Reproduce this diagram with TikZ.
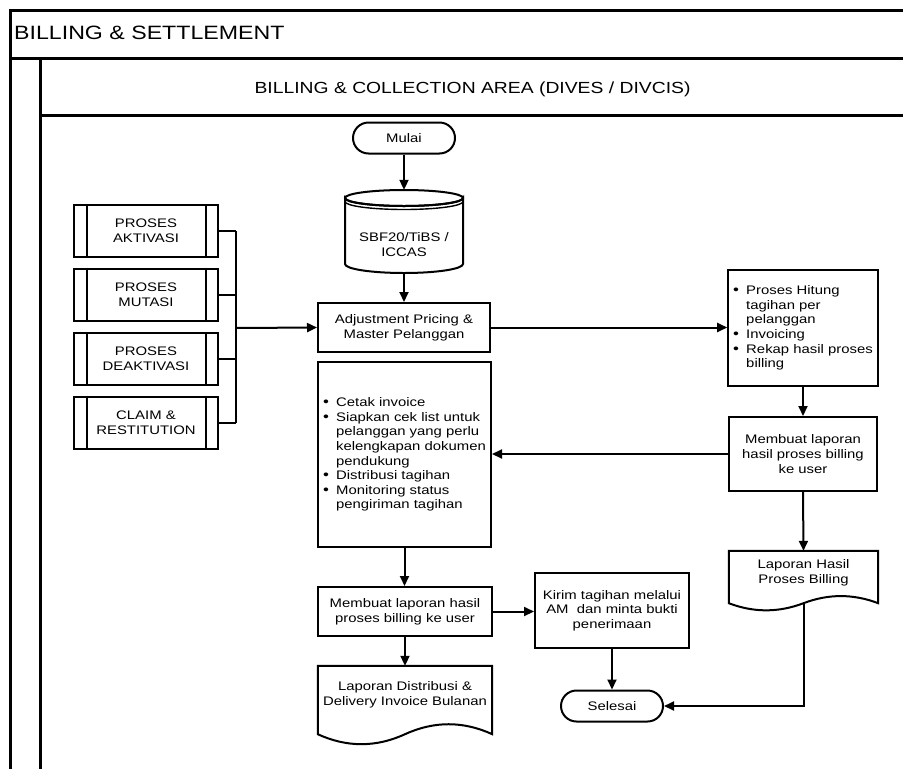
\documentclass[tikz,border=0pt]{standalone}
\usepackage{fontspec}
\setmainfont[FakeStretch=1.2]{Liberation Sans}
\usetikzlibrary{arrows.meta,shapes.misc,calc}
\newcommand\boxfont{\fontsize{12.4}{14.6}\selectfont}
\newcommand\bl{\makebox[13pt][l]{{\fontsize{14}{14}\selectfont\textbullet}}}
\newcommand\ii{\makebox[13pt]{}}
\begin{document}
\begin{tikzpicture}[x=1pt,y=-1pt,
  lane/.style={line width=3pt},
  box/.style={draw, line width=2pt, fill=white, inner sep=0pt, align=center, font=\boxfont},
  listbox/.style={box, align=left, inner xsep=5pt},
  term/.style={box, rounded rectangle, minimum width=102pt, minimum height=31pt},
  sub/.style={box, minimum width=144pt, minimum height=52pt},
  conn/.style={line width=2pt},
  arr/.style={conn, -{Triangle[length=10pt,width=9pt]}}
]
\useasboundingbox (0,0) rectangle (903,769);

% swimlane frame
\draw[lane] (10,772) -- (10,10) -- (906,10);
\draw[lane] (10,58) -- (906,58);
\draw[lane] (40,772) -- (40,58);
\draw[lane] (40,115) -- (906,115);
\node[anchor=base west, font=\fontsize{19.3}{19}\selectfont, inner sep=0pt] (lane1) at (14,39.5) {BILLING \& SETTLEMENT};
\node[anchor=base, font=\fontsize{16.1}{16}\selectfont, inner sep=0pt] (lane2) at (472.5,93) {BILLING \& COLLECTION AREA (DIVES / DIVCIS)};

% start and database
\node[term] (start) at (404,138) {Mulai};
\node[minimum width=118pt, minimum height=83pt, inner sep=0pt] (db) at (404,231.5) {};
\draw[conn, fill=white] (345,264) -- (345,198)
  arc[start angle=180, end angle=0, x radius=59, y radius=8]
  -- (463,264) arc[start angle=0, end angle=180, x radius=59, y radius=9] -- cycle;
\draw[conn] (404,198) ellipse[x radius=59, y radius=8];
\draw[line width=1.4pt] (345,201.5) arc[start angle=180, end angle=0, x radius=59, y radius=8];
\node[font=\boxfont, align=center, inner sep=0pt] (dbtext) at (404,244.5) {SBF20/TiBS /\\ICCAS};

% input processes
\node[sub] (p1) at (146,231) {PROSES\\AKTIVASI};
\node[sub] (p2) at (146,294.5) {PROSES\\MUTASI};
\node[sub] (p3) at (146,359) {PROSES\\DEAKTIVASI};
\node[sub] (p4) at (146,422.5) {CLAIM \&\\RESTITUTION};
\foreach \p in {p1,p2,p3,p4}{
  \draw[conn] ([xshift=14pt]\p.north west) -- ([xshift=14pt]\p.south west);
  \draw[conn] ([xshift=-13pt]\p.north east) -- ([xshift=-13pt]\p.south east);
}

% main flow boxes
\node[box, minimum width=172pt, minimum height=49pt] (adj) at (404,327.5) {Adjustment Pricing \&\\Master Pelanggan};
\node[listbox, minimum width=148pt, minimum height=116pt] (calc) at (803,328)
  {\bl Proses Hitung\\\ii tagihan per\\\ii pelanggan\\\bl Invoicing\\\bl Rekap hasil proses\\\ii billing};
\node[box, minimum width=148pt, minimum height=74pt] (rep) at (803,454) {Membuat laporan\\hasil proses billing\\ke user};
\node[listbox, minimum width=173pt, minimum height=185pt] (print) at (404.5,454.5)
  {\bl Cetak invoice\\\bl Siapkan cek list untuk\\\ii pelanggan yang perlu\\\ii kelengkapan dokumen\\\ii pendukung\\\bl Distribusi tagihan\\\bl Monitoring status\\\ii pengiriman tagihan};
\node[box, minimum width=174pt, minimum height=49pt] (rep2) at (405,611.5) {Membuat laporan hasil\\proses billing ke user};
\node[box, minimum width=154pt, minimum height=75pt] (send) at (612,610.5) {Kirim tagihan melalui\\AM\ \ dan minta bukti\\penerimaan};
\node[term] (stop) at (612,706) {Selesai};

% documents
\node[inner sep=0pt, minimum width=174pt, minimum height=58pt] (doc1) at (405,695) {};
\draw[conn, fill=white] ($(doc1.south west)+(0,10)$) -- (doc1.north west) -- (doc1.north east) -- ($(doc1.south east)+(0,10)$)
  .. controls +(-29,-13.3) and +(29,-13.3) .. ($(doc1.south)+(0,10)$)
  .. controls +(-29,13.3) and +(29,13.3) .. ($(doc1.south west)+(0,10)$) -- cycle;
\node[font=\boxfont, align=center, inner sep=0pt] (doc1text) at (doc1.center) {Laporan Distribusi \&\\Delivery Invoice Bulanan};
\node[inner sep=0pt, minimum width=149pt, minimum height=44pt] (doc2) at (803.5,573) {};
\draw[conn, fill=white] ($(doc2.south west)+(0,8)$) -- (doc2.north west) -- (doc2.north east) -- ($(doc2.south east)+(0,8)$)
  .. controls +(-25,-9.5) and +(25,-9.5) .. ($(doc2.south)+(0,8)$)
  .. controls +(-25,9.5) and +(25,9.5) .. ($(doc2.south west)+(0,8)$) -- cycle;
\node[font=\boxfont, align=center, inner sep=0pt] (doc2text) at (doc2.center) {Laporan Hasil\\Proses Billing};
\coordinate (doc2b) at ($(doc2.south)+(0,8)$);

% connectors
\coordinate (bus) at (236,328);
\foreach \p in {p1,p2,p3,p4}{\draw[conn] (\p.east) -- (\p.east -| bus);}
\draw[conn] (p1.east -| bus) -- (p4.east -| bus);
\draw[arr] (bus) -- (adj.west);
\draw[arr] (start.south) -- (db.north);
\draw[arr] (db.south) -- (adj.north);
\draw[arr] (adj.east) -- (adj.east -| calc.west);
\draw[arr] (calc.south) -- (rep.north);
\draw[arr] (rep.west) -- (rep.west -| print.east);
\draw[arr] (rep.south) -- (doc2.north);
\draw[arr] (print.south) -- (print.south |- rep2.north);
\draw[arr] (rep2.south) -- (doc1.north);
\draw[arr] (rep2.east) -- (rep2.east -| send.west);
\draw[arr] (send.south) -- (stop.north);
\draw[arr] (doc2b) |- (stop.east);
\end{tikzpicture}
\end{document}
